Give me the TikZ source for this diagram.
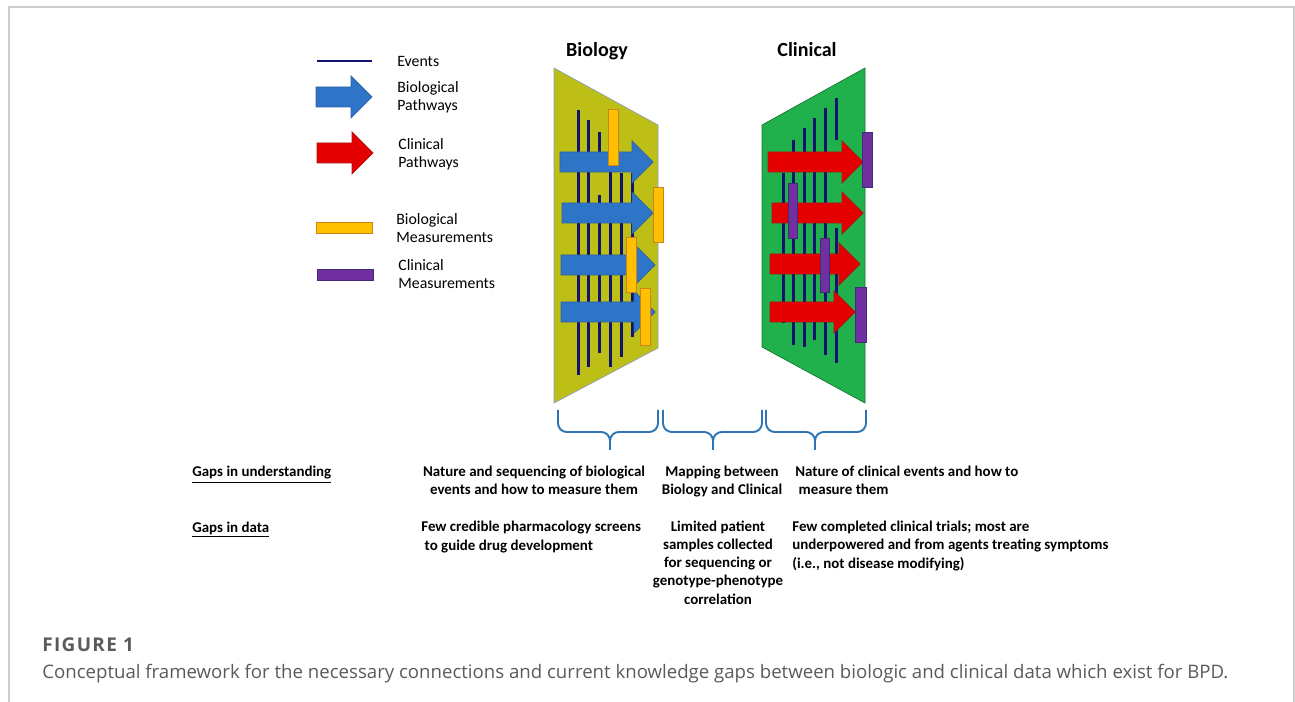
\documentclass[tikz,border=0pt]{standalone}
\usepackage{fontspec}
\setmainfont{Carlito}
\newfontfamily\captionfont{Open Sans}

\definecolor{FrameGray}{RGB}{205,205,205}
\definecolor{BioFill}{RGB}{189,190,22}
\definecolor{BioEdge}{RGB}{140,160,190}
\definecolor{ClinFill}{RGB}{33,177,76}
\definecolor{ClinEdge}{RGB}{20,120,50}
\definecolor{EventNavy}{RGB}{16,20,110}
\definecolor{PathBlue}{RGB}{46,117,200}
\definecolor{PathBlueEdge}{RGB}{45,95,165}
\definecolor{PathRed}{RGB}{228,0,0}
\definecolor{PathRedEdge}{RGB}{170,20,20}
\definecolor{MeasOrange}{RGB}{255,192,0}
\definecolor{MeasOrangeEdge}{RGB}{205,130,30}
\definecolor{MeasPurple}{RGB}{112,48,160}
\definecolor{MeasPurpleEdge}{RGB}{70,40,120}
\definecolor{BraceBlue}{RGB}{46,117,182}
\definecolor{CapGray}{RGB}{90,90,90}

% fat arrow: style, tail x, tip x, middle y
\newcommand{\pathway}[4]{%
  \draw[#1] (#2,#4-10) -- (#3-21,#4-10) -- (#3-21,#4-21) -- (#3,#4)
    -- (#3-21,#4+21) -- (#3-21,#4+10) -- (#2,#4+10) -- cycle;}

\begin{document}
\begin{tikzpicture}
[
x=0.02cm, y=-0.02cm,
Frame/.style={draw=FrameGray, line width=0.9pt},
BioPanel/.style={draw=BioEdge, fill=BioFill, thin},
ClinPanel/.style={draw=ClinEdge, fill=ClinFill, thin},
Event/.style={draw=EventNavy, line width=1.7pt},
BioPath/.style={draw=PathBlueEdge, fill=PathBlue, thin},
ClinPath/.style={draw=PathRedEdge, fill=PathRed, thin},
BioMeas/.style={draw=MeasOrangeEdge, fill=MeasOrange, thin},
ClinMeas/.style={draw=MeasPurpleEdge, fill=MeasPurple, thin},
GapBrace/.style={draw=BraceBlue, line width=1.1pt, rounded corners=5pt},
Title/.style={anchor=base, font=\fontsize{11.4}{13}\selectfont\bfseries},
LegendText/.style={anchor=base west, align=left, inner sep=0pt, font=\fontsize{9}{10.5}\selectfont},
GapText/.style={anchor=base west, align=left, inner sep=0pt, font=\fontsize{8.5}{10.3}\selectfont\bfseries},
GapMid/.style={anchor=base, align=center, inner sep=0pt, font=\fontsize{8.5}{10.3}\selectfont\bfseries},
]

\useasboundingbox (0,0) rectangle (1295,702);
\draw[Frame] (9,702) -- (9,7) -- (1294,7) -- (1294,702);

% legend
\draw[Event] (317,61) -- (372,61);
\pathway{BioPath}{316}{372}{97}
\pathway{ClinPath}{317}{373}{153}
\draw[BioMeas] (316,222) rectangle (372,233);
\draw[ClinMeas] (317,269) rectangle (373,280);

% base of a multi-line node = its last line
\node[LegendText] (lgevents) at (397,67) {Events};
\node[LegendText] (lgbiopath) at (397,111) {Biological\\Pathways};
\node[LegendText] (lgclinpath) at (398,168) {Clinical\\Pathways};
\node[LegendText] (lgbiomeas) at (396,243) {Biological\\Measurements};
\node[LegendText] (lgclinmeas) at (398,289) {Clinical\\Measurements};

% panels
\node[Title] (biotitle) at (597,57) {Biology};
\node[Title] (clintitle) at (807,57) {Clinical};

\draw[BioPanel] (554,68) -- (658,125) -- (658,348) -- (554,403) -- cycle;
\draw[ClinPanel] (762,125) -- (865,68) -- (865,403) -- (762,347) -- cycle;

\foreach \x/\a/\b in {578/110/375, 588/120/367, 599/132/160, 599/195/353,
                      610/170/367, 621/173/357, 632/173/337}
  \draw[Event] (\x,\a) -- (\x,\b);
\foreach \x/\a/\b in {783/173/323, 793/140/345, 804/128/347, 814/118/340,
                      825/108/355, 836/98/140, 836/228/363}
  \draw[Event] (\x,\a) -- (\x,\b);

\pathway{BioPath}{560}{653}{162}
\pathway{BioPath}{562}{653}{213}
\pathway{BioPath}{561}{655}{265}
\pathway{BioPath}{561}{655}{312}

\pathway{ClinPath}{768}{863}{162}
\pathway{ClinPath}{772}{863}{213}
\pathway{ClinPath}{770}{860}{264}
\pathway{ClinPath}{770}{855}{312}

\draw[BioMeas] (608,109) rectangle (618,165);
\draw[BioMeas] (653,187) rectangle (663,242);
\draw[BioMeas] (626,237) rectangle (636,292);
\draw[BioMeas] (640,288) rectangle (650,345);

\draw[ClinMeas] (862,132) rectangle (872,187);
\draw[ClinMeas] (788,183) rectangle (797,238);
\draw[ClinMeas] (820,238) rectangle (829,292);
\draw[ClinMeas] (855,287) rectangle (866,342);

% braces
\draw[GapBrace] (558,410) -- (558,432) -- (610,432) -- (610,450);
\draw[GapBrace] (658,410) -- (658,432) -- (610,432) -- (610,450);
\draw[GapBrace] (663,410) -- (663,432) -- (713,432) -- (713,450);
\draw[GapBrace] (762,410) -- (762,432) -- (713,432) -- (713,450);
\draw[GapBrace] (766,410) -- (766,432) -- (815,432) -- (815,450);
\draw[GapBrace] (866,410) -- (866,432) -- (815,432) -- (815,450);

% gaps
\node[GapText] (gapund) at (192,477) {\underline{Gaps in understanding}};
\node[GapText] (gapdata) at (192,532) {\underline{Gaps in data}};

\node[GapMid] (biound) at (534,495) {Nature and sequencing of biological\\events and how to measure them};
\node[GapText] (biodata) at (421,550) {Few credible pharmacology screens\\\ to guide drug development};
\node[GapMid] (mapund) at (722,495) {Mapping between\\Biology and Clinical};
\node[GapMid] (mapdata) at (718,604) {Limited patient\\samples collected\\for sequencing or\\genotype-phenotype\\correlation};
\node[GapText] (clinund) at (795,495) {Nature of clinical events and how to\\\ measure them};
\node[GapText] (clindata) at (792,568) {Few completed clinical trials; most are\\underpowered and from agents treating symptoms\\(i.e., not disease modifying)};

% caption
\node[anchor=base west, inner sep=0pt, text=CapGray, font=\captionfont\fontsize{10.8}{12}\selectfont\bfseries\addfontfeature{LetterSpace=7}] (figlabel) at (42,651) {FIGURE 1};
\node[anchor=base west, inner sep=0pt, text=CapGray, font=\captionfont\fontsize{10.6}{12}\selectfont] (figcaption) at (42,678) {Conceptual framework for the necessary connections and current knowledge gaps between biologic and clinical data which exist for BPD.};

\end{tikzpicture}
\end{document}
